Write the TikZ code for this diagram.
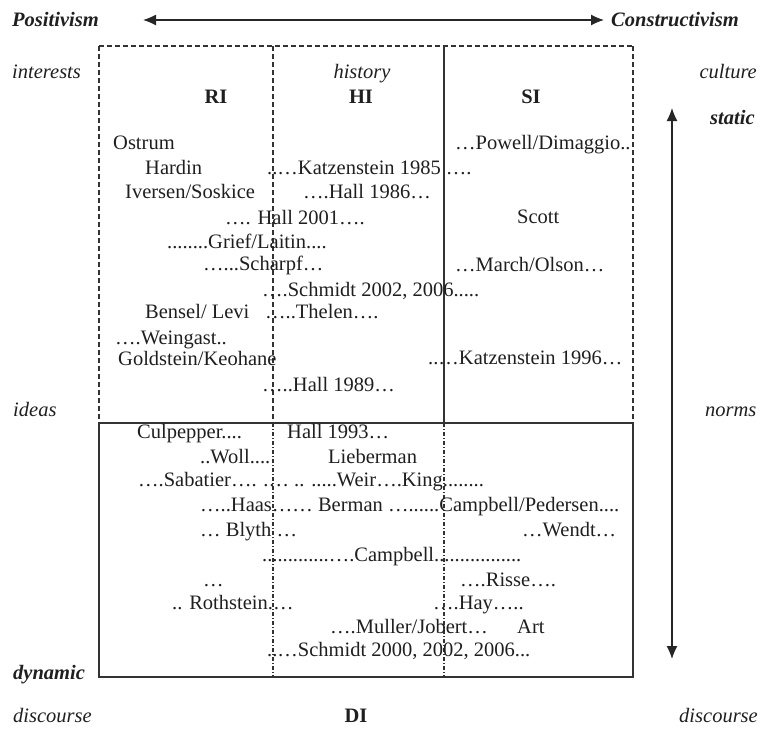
\documentclass[tikz,border=0pt]{standalone}
\usepackage{fontspec}
\setmainfont{Liberation Serif}
\usetikzlibrary{arrows.meta}
\tikzset{
  txt/.style={inner sep=0pt, yshift=-3pt, font=\fontsize{20.5}{24}\selectfont, text=black!88},
  nm/.style={txt, anchor=mid west},
  ital/.style={txt, font=\fontsize{20.5}{24}\selectfont\itshape},
  bital/.style={txt, font=\fontsize{20.5}{24}\selectfont\bfseries\itshape},
  bold/.style={txt, font=\fontsize{20.5}{24}\selectfont\bfseries},
  frame/.style={line width=1.2pt, draw=black!80},
  dashedline/.style={frame, dash pattern=on 5pt off 3pt},
  dashdot/.style={frame, dash pattern=on 4pt off 2pt on 1pt off 2pt},
  arr/.style={line width=1.2pt, draw=black!85, {Latex[length=13pt,width=11pt]}-{Latex[length=13pt,width=11pt]}}
}
\begin{document}
\begin{tikzpicture}[x=1pt,y=-1pt]
\useasboundingbox (0,0) rectangle (766,729);

% frame lines
\draw[dashedline] (99,46) -- (633,46);
\draw[dashedline] (99,46) -- (99,423);
\draw[dashedline] (633,46) -- (633,423);
\draw[dashedline] (273,46) -- (273,423);
\draw[frame] (444,46) -- (444,423);
\draw[frame] (99,423) rectangle (633,677);
\draw[dashdot] (273,423) -- (273,677);
\draw[dashdot] (444,423) -- (444,677);

% arrows
\coordinate (hl) at (143,20);
\coordinate (hr) at (604,20);
\draw[arr] (hl) -- (hr);
\coordinate (vt) at (672,108);
\coordinate (vb) at (672,659);
\draw[arr] (vt) -- (vb);

% axis labels
\node[bital, anchor=mid west] (pos) at (12,21) {Positivism};
\node[bital, anchor=mid west] (con) at (611,21) {Constructivism};
\node[ital, anchor=mid west] (interests) at (12,73) {interests};
\node[ital, anchor=mid] (history) at (362,73) {history};
\node[ital, anchor=mid east] (culture) at (757,73) {culture};
\node[bold, anchor=mid] (ri) at (216,98) {RI};
\node[bold, anchor=mid] (hi) at (361,98) {HI};
\node[bold, anchor=mid] (si) at (531,98) {SI};
\node[bital, anchor=mid west] (static) at (710,119) {static};
\node[ital, anchor=mid west] (ideas) at (13,411) {ideas};
\node[ital, anchor=mid west] (norms) at (705,411) {norms};
\node[bital, anchor=mid west] (dynamic) at (13,674) {dynamic};
\node[ital, anchor=mid west] (discl) at (13,717) {discourse};
\node[bold, anchor=mid] (di) at (356,717) {DI};
\node[ital, anchor=mid east] (discr) at (758,717) {discourse};

% upper names
\node[nm] (n1) at (113,144) {Ostrum};
\node[nm] (n2) at (145,169) {Hardin};
\node[nm] (n3) at (267,169) {..…Katzenstein 1985 ….};
\node[nm] (n4) at (125,193) {Iversen/Soskice};
\node[nm] (n5) at (303,193) {….Hall 1986…};
\node[nm] (n6) at (225,219) {…. Hall 2001….};
\node[nm] (n7) at (167,243) {........Grief/Laitin....};
\node[nm] (n8) at (203,265) {…...Scharpf…};
\node[nm] (n9) at (262,291) {….Schmidt 2002, 2006.....};
\node[nm] (n10) at (145,313) {Bensel/ Levi};
\node[nm] (n11) at (265,313) {…..Thelen….};
\node[nm] (n12) at (115,339) {….Weingast..};
\node[nm] (n13) at (118,360) {Goldstein/Keohane};
\node[nm] (n14) at (262,386) {…..Hall 1989…};
\node[nm] (n15) at (455,144) {…Powell/Dimaggio..};
\node[nm] (n16) at (517,218) {Scott};
\node[nm] (n17) at (455,266) {…March/Olson…};
\node[nm] (n18) at (428,359) {..…Katzenstein 1996…};

% lower names
\node[nm] (m1) at (137,433) {Culpepper....};
\node[nm] (m2) at (287,433) {Hall 1993…};
\node[nm] (m3) at (200,458) {..Woll....};
\node[nm] (m4) at (328,458) {Lieberman};
\node[nm] (m5) at (138,481) {….Sabatier…. .… .. .....Weir….King........};
\node[nm] (m6) at (200,506) {…..Haas…… Berman …......Campbell/Pedersen....};
\node[nm] (m7) at (200,531) {… Blyth …};
\node[nm] (m8) at (522,531) {…Wendt…};
\node[nm] (m9) at (262,556) {.............….Campbell.................};
\node[nm] (m10) at (203,581) {…};
\node[nm] (m11) at (460,581) {….Risse….};
\node[nm] (m12) at (172,604) {.. Rothstein.…};
\node[nm] (m13) at (433,604) {….Hay…..};
\node[nm] (m14) at (330,628) {….Muller/Jobert…};
\node[nm] (m15) at (517,628) {Art};
\node[nm] (m16) at (267,651) {..…Schmidt 2000, 2002, 2006...};
\end{tikzpicture}
\end{document}
